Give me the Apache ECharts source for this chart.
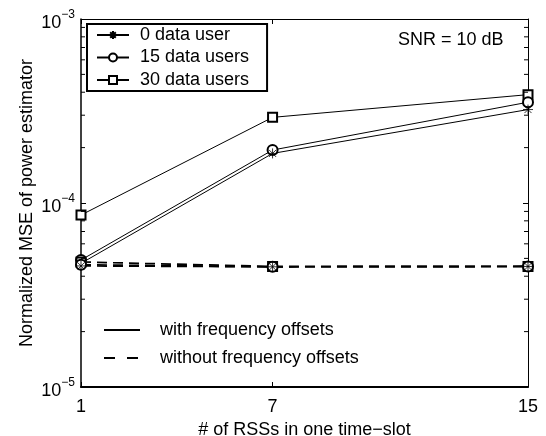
<!DOCTYPE html>
<html><head><meta charset="utf-8">
<script src="https://cdn.jsdelivr.net/npm/echarts@6/dist/echarts.min.js"></script>
<style>html,body{margin:0;padding:0;background:#fff}#c{width:546px;height:436px}</style>
</head><body><div id="c"></div>
<script>
const xValues = [1, 7, 15];
const xTickLabels = [1, 7, 15];
const yMin = 1e-5, yMax = 1e-3;
const minorTickValues = [2e-5,3e-5,4e-5,5e-5,6e-5,7e-5,8e-5,9e-5,2e-4,3e-4,4e-4,5e-4,6e-4,7e-4,8e-4,9e-4];
const names = ['0 data user', '15 data users', '30 data users'];
const withOffset0 = [4.7e-5, 1.86e-4, 3.22e-4];
const withOffset15 = [4.9e-5, 1.94e-4, 3.53e-4];
const withOffset30 = [8.6e-5, 2.92e-4, 3.88e-4];
const noOffset0 = [4.55e-5, 4.5e-5, 4.52e-5];
const noOffset15 = [4.62e-5, 4.5e-5, 4.52e-5];
const noOffset30 = [4.78e-5, 4.52e-5, 4.52e-5];

const FONT = 'Liberation Sans';
const FS = 18;
const starPath = 'path://M5 0L5 10M0 5L10 5M1.5 1.5L8.5 8.5M1.5 8.5L8.5 1.5';
const pairs = arr => arr.map((v, i) => [xValues[i], v]);

function mk(name, data, symbol, size, dashed) {
  return {
    name: name, type: 'line', data: pairs(data),
    symbol: symbol, symbolSize: size,
    lineStyle: { color: '#000', width: dashed ? 1.7 : 1, type: dashed ? [10, 6] : 'solid' },
    itemStyle: { color: '#000', borderColor: '#000', borderWidth: 0.8 },
    emphasis: { disabled: true }, animation: false, z: 3
  };
}

const chart = echarts.init(document.getElementById('c'), null, { renderer: 'canvas' });
const series = [
  mk(names[2], withOffset30, 'emptyRect', 9, false),
  mk(names[1], withOffset15, 'emptyCircle', 10, false),
  mk(names[0], withOffset0, starPath, 10, false),
  mk('n30', noOffset30, 'emptyRect', 9, true),
  mk('n15', noOffset15, 'emptyCircle', 10, true),
  mk('n0', noOffset0, starPath, 10, true),
  { name: 'with frequency offsets', type: 'line', data: [], symbol: 'none', lineStyle: { color: '#000', width: 1, type: 'solid' }, itemStyle: { color: '#000' } },
  { name: 'without frequency offsets', type: 'line', data: [], symbol: 'none', lineStyle: { color: '#000', width: 1, type: [11, 12] }, itemStyle: { color: '#000' } },
  {
    type: 'custom', name: 'minorTicks', silent: true, clip: false, z: 5,
    data: minorTickValues.map(v => [xValues[0], v]),
    encode: { x: 0, y: 1 },
    renderItem: function (params, api) {
      const v = api.value(1);
      const p1 = api.coord([xValues[0], v]);
      const p2 = api.coord([xValues[xValues.length - 1], v]);
      const st = { stroke: '#000', lineWidth: 1 };
      return { type: 'group', children: [
        { type: 'line', shape: { x1: p1[0], y1: p1[1], x2: p1[0] + 4, y2: p1[1] }, style: st },
        { type: 'line', shape: { x1: p2[0] - 4, y1: p2[1], x2: p2[0], y2: p2[1] }, style: st }
      ] };
    }
  }
];

function yFmt(v) {
  const e = Math.round(Math.log10(v));
  return '{b|10}{s|' + (e < 0 ? '\u2212' : '') + Math.abs(e) + '}';
}

chart.setOption({
  backgroundColor: '#fff',
  animation: false,
  grid: { left: 81, right: 18, top: 19, bottom: 49, containLabel: false, outerBoundsMode: 'none' },
  xAxis: [{
    type: 'value', min: 1, max: 15, position: 'bottom',
    name: '# of RSSs in one time\u2212slot', nameLocation: 'middle', nameGap: 31,
    nameTextStyle: { fontFamily: FONT, fontSize: FS, color: '#000' },
    axisLine: { lineStyle: { color: '#000', width: 2 } },
    axisTick: { inside: true, length: 5, customValues: xTickLabels, lineStyle: { color: '#000' } },
    axisLabel: { customValues: xTickLabels, fontFamily: FONT, fontSize: FS, color: '#000', margin: 11 },
    splitLine: { show: false }
  }, {
    type: 'value', min: 1, max: 15, position: 'top',
    axisLine: { lineStyle: { color: '#000', width: 1 } },
    axisTick: { inside: true, length: 5, customValues: xTickLabels, lineStyle: { color: '#000' } },
    axisLabel: { show: false }, splitLine: { show: false }
  }],
  yAxis: [{
    type: 'log', logBase: 10, min: yMin, max: yMax, position: 'left',
    name: 'Normalized MSE of power estimator', nameLocation: 'middle', nameGap: 45,
    nameMoveOverlap: false,
    nameTextStyle: { fontFamily: FONT, fontSize: FS, color: '#000' },
    axisLine: { lineStyle: { color: '#000', width: 1.5 } },
    axisTick: { inside: true, length: 5, lineStyle: { color: '#000' } },
    axisLabel: {
      formatter: yFmt, margin: 6,
      rich: {
        b: { fontFamily: FONT, fontSize: FS, color: '#000', padding: [8, 0, 0, 0] },
        s: { fontFamily: FONT, fontSize: 12, color: '#000', padding: [0, 0, 8, 0] }
      }
    },
    splitLine: { show: false }
  }, {
    type: 'log', logBase: 10, min: yMin, max: yMax, position: 'right',
    axisLine: { lineStyle: { color: '#000', width: 1 } },
    axisTick: { inside: true, length: 5, lineStyle: { color: '#000' } },
    axisLabel: { show: false }, splitLine: { show: false }
  }],
  legend: [{
    data: names, orient: 'vertical', left: 87, top: 24,
    itemWidth: 32, itemHeight: 10, itemGap: 4.5,
    borderColor: '#000', borderWidth: 2, padding: [2, 18, 2, 9], backgroundColor: '#fff',
    selectedMode: false,
    textStyle: { fontFamily: FONT, fontSize: FS, color: '#000', lineHeight: 18, padding: [0, 0, 0, 6] }
  }, {
    data: ['with frequency offsets', 'without frequency offsets'], orient: 'vertical', left: 103, top: 321,
    itemWidth: 36, itemHeight: 10, itemGap: 10, selectedMode: false, padding: 0,
    itemStyle: { opacity: 0 },
    textStyle: { fontFamily: FONT, fontSize: FS, color: '#000', lineHeight: 18, padding: [0, 0, 0, 15] }
  }],
  graphic: [{
    type: 'text', left: 398, top: 31, z: 10,
    style: { text: 'SNR = 10 dB', font: FS + 'px "Liberation Sans"', fill: '#000' }
  }],
  series: series
});
</script></body></html>
